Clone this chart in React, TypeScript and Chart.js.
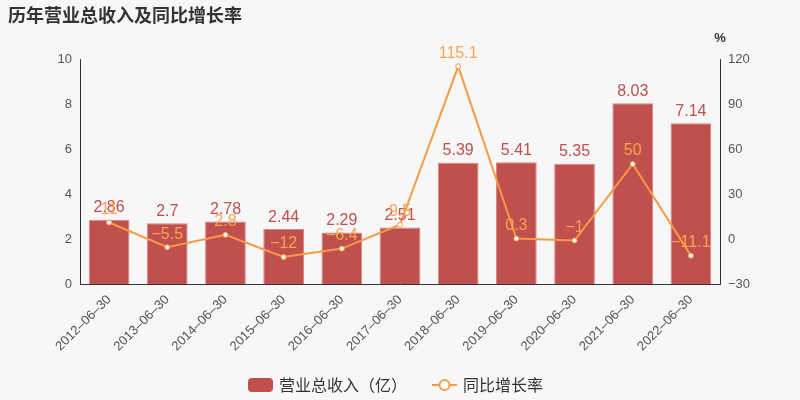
import React, { useEffect, useRef } from "react";
import { Chart, registerables } from "chart.js";

Chart.register(...registerables);

const categories = ["2012-06-30","2013-06-30","2014-06-30","2015-06-30","2016-06-30","2017-06-30","2018-06-30","2019-06-30","2020-06-30","2021-06-30","2022-06-30"];
const revenue = [2.86, 2.7, 2.78, 2.44, 2.29, 2.51, 5.39, 5.41, 5.35, 8.03, 7.14];
const growth = [11, -5.5, 2.8, -12, -6.4, 9.5, 115.1, 0.3, -1, 50, -11.1];
const growthLabels = ["11", "\u22125.5", "2.8", "\u221212", "\u22126.4", "9.5", "115.1", "0.3", "\u22121", "50", "\u221211.1"];

const BAR = "#c0504d";
const LINE = "#f79a45";
const LINE_LABEL = "#f8a552";
const FONT = "'Liberation Sans', Arial, 'Noto Sans CJK SC', sans-serif";

export default function App() {
  const ref = useRef<HTMLCanvasElement>(null);
  useEffect(() => {
    const canvas = ref.current!;
    const deco = {
      id: "deco",
      beforeDraw(chart: any) {
        const c = chart.ctx;
        c.save();
        c.fillStyle = "#f7f7f7";
        c.fillRect(0, 0, chart.width, chart.height);
        c.restore();
      },
      afterDraw(chart: any) {
        const c = chart.ctx;
        c.save();
        // title
        c.fillStyle = "#333";
        c.font = "bold 18px 'Noto Sans CJK SC', sans-serif";
        c.textAlign = "left";
        c.textBaseline = "alphabetic";
        c.fillText("历年营业总收入及同比增长率", 8, 22);
        // percent
        c.font = "bold 13px " + FONT;
        c.textAlign = "center";
        c.fillText("%", 720, 42);
        // bar labels
        const m0 = chart.getDatasetMeta(0);
        c.font = "16px " + FONT;
        c.fillStyle = BAR;
        c.textBaseline = "bottom";
        m0.data.forEach((el: any, i: number) => {
          c.fillText(String(revenue[i]), el.x, el.y - 4);
        });
        // line labels
        const m1 = chart.getDatasetMeta(1);
        c.fillStyle = LINE_LABEL;
        c.textBaseline = "bottom";
        m1.data.forEach((el: any, i: number) => {
          c.fillText(growthLabels[i], el.x, el.y - 5);
        });
        // legend
        c.fillStyle = BAR;
        const rx = 248, ry = 378, rw = 25, rh = 14, rr = 4;
        c.beginPath();
        c.moveTo(rx + rr, ry);
        c.arcTo(rx + rw, ry, rx + rw, ry + rh, rr);
        c.arcTo(rx + rw, ry + rh, rx, ry + rh, rr);
        c.arcTo(rx, ry + rh, rx, ry, rr);
        c.arcTo(rx, ry, rx + rw, ry, rr);
        c.closePath();
        c.fill();
        c.fillStyle = "#333";
        c.font = "16px 'Noto Sans CJK SC', sans-serif";
        c.textAlign = "left";
        c.textBaseline = "middle";
        c.fillText("营业总收入（亿）", 279, 385);
        c.strokeStyle = LINE;
        c.lineWidth = 2;
        c.beginPath();
        c.moveTo(432, 385);
        c.lineTo(457, 385);
        c.stroke();
        c.fillStyle = "#fff";
        c.beginPath();
        c.arc(444.5, 385, 5, 0, Math.PI * 2);
        c.fill();
        c.stroke();
        c.fillStyle = "#333";
        c.fillText("同比增长率", 463, 385);
        c.restore();
      },
    };
    const chart = new Chart(canvas, {
      data: {
        labels: categories,
        datasets: [
          {
            type: "bar",
            label: "营业总收入（亿）",
            data: revenue,
            backgroundColor: BAR,
            borderColor: "#d98784",
            borderWidth: 1,
            barPercentage: 0.7,
            categoryPercentage: 1,
            yAxisID: "y",
            order: 2,
          },
          {
            type: "line",
            label: "同比增长率",
            data: growth,
            borderColor: LINE,
            borderWidth: 2,
            pointBackgroundColor: "#fff",
            pointBorderColor: LINE,
            pointBorderWidth: 1,
            pointRadius: 2.5,
            tension: 0,
            yAxisID: "y1",
            order: 1,
          },
        ],
      } as any,
      options: {
        animation: false,
        responsive: false,
        layout: { padding: { top: 59, left: 0, right: 0, bottom: 0 } },
        plugins: { legend: { display: false }, tooltip: { enabled: false }, title: { display: false } },
        scales: {
          x: {
            grid: { display: false, drawTicks: true, tickLength: 5, color: "#333" } as any,
            border: { color: "#333" },
            ticks: {
              color: "#555",
              font: { size: 13, family: FONT },
              maxRotation: 45,
              minRotation: 45,
              autoSkip: false,
              callback: (_v: any, i: number) => categories[i].replace(/-/g, "\u2013"),
            },
            afterFit(s: any) { s.height = 116; },
          } as any,
          y: {
            position: "left",
            min: 0,
            max: 10,
            grid: { display: false, drawOnChartArea: false, tickLength: 5 } as any,
            border: { color: "#333" },
            ticks: { stepSize: 2, color: "#555", font: { size: 13, family: FONT } },
            afterFit(s: any) { s.width = 80; },
          } as any,
          y1: {
            position: "right",
            min: -30,
            max: 120,
            grid: { display: false, drawOnChartArea: false, tickLength: 5 } as any,
            border: { color: "#333" },
            ticks: { stepSize: 30, color: "#555", font: { size: 13, family: FONT }, callback: (v: any) => (v < 0 ? "\u2212" + Math.abs(v) : String(v)) },
            afterFit(s: any) { s.width = 80; },
          } as any,
        },
      },
      plugins: [deco],
    });
    return () => chart.destroy();
  }, []);
  return (
    <div style={{ position: "fixed", left: 0, top: 0, width: 800, height: 400 }}>
      <canvas ref={ref} width={800} height={400} style={{ width: 800, height: 400 }} />
    </div>
  );
}
